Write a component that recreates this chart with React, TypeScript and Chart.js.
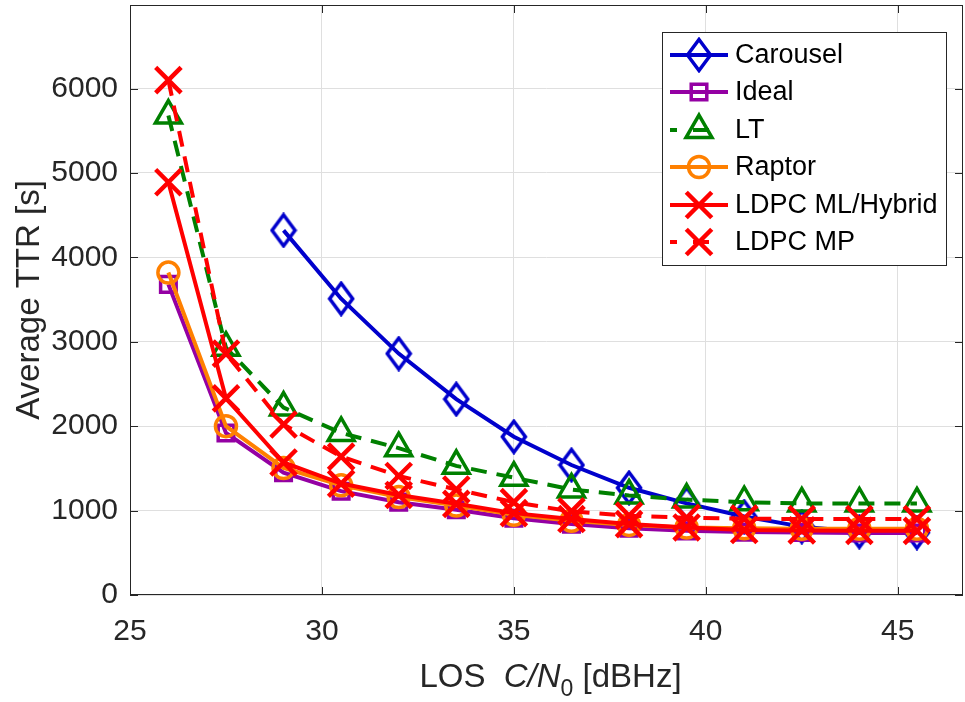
import React, { useEffect, useRef } from 'react';
import { Chart, registerables } from 'chart.js';

Chart.register(...registerables);

// ---- data ----
const xValues = [26, 27.5, 29, 30.5, 32, 33.5, 35, 36.5, 38, 39.5, 41, 42.5, 44, 45.5];
const carousel = [null, null, 4320, 3510, 2860, 2320, 1875, 1540, 1270, 1085, 930, 810, 750, 740];
const ideal = [3680, 1920, 1450, 1230, 1100, 1010, 910, 840, 790, 760, 745, 740, 735, 735];
const lt = [5680, 2930, 2220, 1920, 1740, 1530, 1390, 1250, 1180, 1130, 1100, 1085, 1085, 1085];
const raptor = [3820, 2000, 1505, 1300, 1160, 1060, 950, 880, 830, 800, 790, 785, 785, 785];
const ldpcML = [4890, 2330, 1570, 1320, 1185, 1080, 970, 900, 840, 800, 770, 765, 760, 760];
const ldpcMP = [6100, 2860, 2020, 1640, 1410, 1250, 1100, 990, 940, 915, 905, 900, 900, 900];

const seriesNames = ['Carousel', 'Ideal', 'LT', 'Raptor', 'LDPC ML/Hybrid', 'LDPC MP'];
const xTicks = [25, 30, 35, 40, 45];
const yTicks = [0, 1000, 2000, 3000, 4000, 5000, 6000];
const xRange = [25, 46.7];
const yRange = [0, 6990];

const FONT = "'Liberation Sans', Arial, Helvetica, sans-serif";
const TEXT = '#262626';

type Style = { color: string; marker: string; radius: number; dashed: boolean };
const styles: Style[] = [
  { color: '#0000CC', marker: 'diamond', radius: 12, dashed: false },
  { color: '#9400A3', marker: 'rect', radius: 11, dashed: false },
  { color: '#008000', marker: 'triangle', radius: 15, dashed: true },
  { color: '#FF8000', marker: 'circle', radius: 10.5, dashed: false },
  { color: '#FF0000', marker: 'crossRot', radius: 18, dashed: false },
  { color: '#FF0000', marker: 'crossRot', radius: 18, dashed: true },
];
const seriesValues = [carousel, ideal, lt, raptor, ldpcML, ldpcMP];

function makeDiamond(color: string): HTMLCanvasElement {
  const c = document.createElement('canvas');
  c.width = 28;
  c.height = 36;
  const g = c.getContext('2d')!;
  g.strokeStyle = color;
  g.lineWidth = 3.5;
  g.lineJoin = 'miter';
  g.beginPath();
  g.moveTo(14, 2.5);
  g.lineTo(25.5, 18);
  g.lineTo(14, 33.5);
  g.lineTo(2.5, 18);
  g.closePath();
  g.stroke();
  return c;
}

function drawMarker(ctx: CanvasRenderingContext2D, s: Style, x: number, y: number, img: HTMLCanvasElement | null) {
  ctx.save();
  ctx.strokeStyle = s.color;
  ctx.setLineDash([]);
  const r = s.radius;
  ctx.beginPath();
  if (s.marker === 'diamond' && img) {
    ctx.drawImage(img, x - img.width / 2, y - img.height / 2);
    ctx.restore();
    return;
  } else if (s.marker === 'rect') {
    ctx.lineWidth = 3.5;
    const h = Math.SQRT1_2 * r;
    ctx.rect(x - h, y - h, 2 * h, 2 * h);
  } else if (s.marker === 'triangle') {
    ctx.lineWidth = 3.5;
    let rad = 0;
    ctx.moveTo(x + Math.sin(rad) * r, y - Math.cos(rad) * r);
    rad += (2 * Math.PI) / 3;
    ctx.lineTo(x + Math.sin(rad) * r, y - Math.cos(rad) * r);
    rad += (2 * Math.PI) / 3;
    ctx.lineTo(x + Math.sin(rad) * r, y - Math.cos(rad) * r);
    ctx.closePath();
  } else if (s.marker === 'circle') {
    ctx.lineWidth = 3.5;
    ctx.arc(x, y, r, 0, Math.PI * 2);
  } else if (s.marker === 'crossRot') {
    ctx.lineWidth = 4.5;
    const o = Math.SQRT1_2 * r;
    ctx.moveTo(x - o, y - o);
    ctx.lineTo(x + o, y + o);
    ctx.moveTo(x - o, y + o);
    ctx.lineTo(x + o, y - o);
  }
  ctx.stroke();
  ctx.restore();
}

function zeroPadding(scale: any) {
  scale.paddingTop = 0;
  scale.paddingBottom = 0;
  scale.paddingLeft = 0;
  scale.paddingRight = 0;
}

export default function App() {
  const canvasRef = useRef<HTMLCanvasElement | null>(null);

  useEffect(() => {
    const canvas = canvasRef.current;
    if (!canvas) return;
    const diamond = makeDiamond(styles[0].color);

    const datasets = seriesValues.map((vals, i) => {
      const s = styles[i];
      const data = xValues
        .map((x, k) => ({ x, y: vals[k] }))
        .filter((p) => p.y !== null) as { x: number; y: number }[];
      return {
        label: seriesNames[i],
        data,
        borderColor: s.color,
        backgroundColor: 'rgba(0,0,0,0)',
        borderWidth: 4,
        borderDash: s.dashed ? [16, 10] : [],
        pointStyle: s.marker === 'diamond' ? diamond : s.marker,
        pointRadius: s.radius,
        pointHoverRadius: s.radius,
        pointBorderColor: s.color,
        pointBackgroundColor: 'rgba(0,0,0,0)',
        pointBorderWidth: s.marker === 'crossRot' ? 4.5 : 3.5,
        fill: false,
        tension: 0,
        order: seriesValues.length - 1 - i,
      };
    });

    const framePlugin = {
      id: 'frame',
      beforeDatasetsDraw(chart: any) {
        const { ctx, chartArea: a, scales } = chart;
        ctx.save();
        ctx.strokeStyle = TEXT;
        ctx.lineWidth = 1;
        ctx.strokeRect(a.left + 0.5, a.top + 0.5, a.right - a.left - 1, a.bottom - a.top - 1);
        const tl = 8;
        ctx.beginPath();
        xTicks.forEach((v) => {
          const px = Math.round(scales.x.getPixelForValue(v)) + 0.5;
          ctx.moveTo(px, a.bottom);
          ctx.lineTo(px, a.bottom - tl);
          ctx.moveTo(px, a.top);
          ctx.lineTo(px, a.top + tl);
        });
        yTicks.forEach((v) => {
          const py = Math.round(scales.y.getPixelForValue(v)) + 0.5;
          ctx.moveTo(a.left, py);
          ctx.lineTo(a.left + tl, py);
          ctx.moveTo(a.right, py);
          ctx.lineTo(a.right - tl, py);
        });
        ctx.stroke();
        ctx.restore();
      },
      afterDraw(chart: any) {
        const { ctx, chartArea: a } = chart;
        ctx.save();
        // y title
        ctx.fillStyle = TEXT;
        ctx.font = `33px ${FONT}`;
        ctx.textAlign = 'center';
        ctx.textBaseline = 'middle';
        ctx.translate(30, (a.top + a.bottom) / 2);
        ctx.rotate(-Math.PI / 2);
        ctx.fillText('Average TTR [s]', 0, 0);
        ctx.restore();

        // x title with italic C/N and subscript 0
        ctx.save();
        ctx.fillStyle = TEXT;
        ctx.textBaseline = 'alphabetic';
        ctx.textAlign = 'left';
        const parts = [
          { t: 'LOS  ', f: `33px ${FONT}`, dy: 0 },
          { t: 'C/N', f: `italic 33px ${FONT}`, dy: 0 },
          { t: '0', f: `23px ${FONT}`, dy: 9 },
          { t: ' [dBHz]', f: `33px ${FONT}`, dy: 0 },
        ];
        let total = 0;
        parts.forEach((p) => {
          ctx.font = p.f;
          total += ctx.measureText(p.t).width;
        });
        let x = (a.left + a.right) / 2 - total / 2 + 4;
        const base = 687;
        parts.forEach((p) => {
          ctx.font = p.f;
          ctx.fillText(p.t, x, base + p.dy);
          x += ctx.measureText(p.t).width;
        });
        ctx.restore();

        // legend
        ctx.save();
        const bx = 662.5, by = 32.5, bw = 284, bh = 233;
        ctx.fillStyle = '#ffffff';
        ctx.fillRect(bx, by, bw, bh);
        ctx.strokeStyle = TEXT;
        ctx.lineWidth = 1;
        ctx.strokeRect(bx, by, bw, bh);
        const rows = [55, 92, 130, 167, 205, 242];
        styles.forEach((s, i) => {
          const y = rows[i];
          ctx.save();
          ctx.strokeStyle = s.color;
          ctx.lineWidth = 4;
          ctx.setLineDash(s.dashed ? [7, 16, 16, 100] : []);
          ctx.beginPath();
          ctx.moveTo(670, y);
          ctx.lineTo(728, y);
          ctx.stroke();
          ctx.restore();
          drawMarker(ctx, s, 699, y, diamond);
          ctx.fillStyle = '#000000';
          ctx.font = `27px ${FONT}`;
          ctx.textAlign = 'left';
          ctx.textBaseline = 'middle';
          ctx.fillText(seriesNames[i], 735, y + 1);
        });
        ctx.restore();
      },
    };

    const chart = new Chart(canvas, {
      type: 'line',
      data: { datasets: datasets as any },
      options: {
        animation: false,
        responsive: true,
        maintainAspectRatio: false,
        layout: { autoPadding: false, padding: { left: 0, right: 2, top: 5, bottom: 0 } },
        plugins: {
          legend: { display: false },
          tooltip: { enabled: false },
        },
        events: [],
        scales: {
          x: {
            type: 'linear',
            min: xRange[0],
            max: xRange[1],
            afterBuildTicks: (scale: any) => {
              scale.ticks = xTicks.map((v) => ({ value: v }));
            },
            afterFit: (scale: any) => {
              scale.height = 107;
              zeroPadding(scale);
            },
            grid: { color: '#dfdfdf', lineWidth: 1, drawTicks: false },
            border: { display: false },
            ticks: {
              padding: 19,
              color: TEXT,
              font: { family: FONT, size: 30 },
              maxRotation: 0,
              callback: (v: any) => String(v),
            },
          },
          y: {
            type: 'linear',
            min: yRange[0],
            max: yRange[1],
            afterBuildTicks: (scale: any) => {
              scale.ticks = yTicks.map((v) => ({ value: v }));
            },
            afterFit: (scale: any) => {
              scale.width = 130;
              zeroPadding(scale);
            },
            grid: { color: '#dfdfdf', lineWidth: 1, drawTicks: false },
            border: { display: false },
            ticks: {
              padding: 12,
              color: TEXT,
              font: { family: FONT, size: 30 },
              callback: (v: any) => String(v),
            },
          },
        },
      },
      plugins: [framePlugin],
    });

    return () => {
      chart.destroy();
    };
  }, []);

  return (
    <div style={{ position: 'absolute', left: 0, top: 0, width: 965, height: 702, background: '#ffffff' }}>
      <canvas ref={canvasRef} />
    </div>
  );
}
